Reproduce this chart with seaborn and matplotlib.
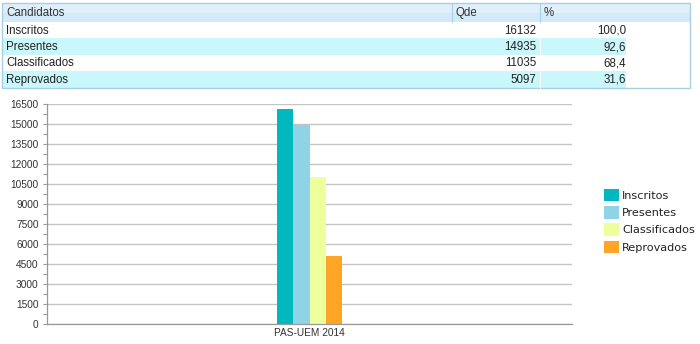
import matplotlib
matplotlib.use("Agg")
import matplotlib.pyplot as plt
from matplotlib.patches import Rectangle
import seaborn as sns
import pandas as pd

# ---- data ----
categories = ["Inscritos", "Presentes", "Classificados", "Reprovados"]
qde = [16132, 14935, 11035, 5097]
pct = ["100,0", "92,6", "68,4", "31,6"]
group_label = "PAS-UEM 2014"
header = ["Candidatos", "Qde", "%"]
yticks = list(range(0, 16501, 1500))
colors = ["#02B8BF", "#8FD4E6", "#EEFF9E", "#FFA526"]

df = pd.DataFrame({"grupo": [group_label] * len(categories),
                   "Candidatos": categories, "Qde": qde})

sns.set_theme(style="white")
plt.rcParams["font.family"] = ["Liberation Sans", "DejaVu Sans"]

W, H = 700, 344
fig = plt.figure(figsize=(W / 100, H / 100), dpi=100)

# ---- table in pixel coords ----
bg = fig.add_axes([0, 0, 1, 1], zorder=0)
bg.set_xlim(0, W)
bg.set_ylim(H, 0)
bg.axis("off")

tx0, tx1 = 2, 690
hy0, hy1 = 3, 22
row_h = 16.4
col_q, col_p = 452, 540
bg.add_patch(Rectangle((tx0, hy0), tx1 - tx0, hy1 - hy0, facecolor="#d3eaf8",
                       edgecolor="none"))
bg.add_patch(Rectangle((tx0, hy0), tx1 - tx0, (hy1 - hy0) / 2, facecolor="#dff0fa",
                       edgecolor="none"))
for x in (col_q, col_p):
    bg.plot([x, x], [hy0, hy1], color="#a9cfe5", lw=0.8)
hx = [6, col_q + 4, col_p + 4]
for t, x in zip(header, hx):
    bg.text(x, (hy0 + hy1) / 2 + 0.5, t, ha="left", va="center", fontsize=8.3,
            color="#333333")
for i, (c, q, p) in enumerate(zip(categories, qde, pct)):
    y0 = hy1 + i * row_h
    if i % 2 == 1:
        bg.add_patch(Rectangle((tx0, y0), 626 - tx0, row_h, facecolor="#c9f7fc",
                               edgecolor="none"))
        bg.plot([col_p, col_p], [y0, y0 + row_h], color="white", lw=0.8)
    yc = y0 + row_h / 2 + 0.5
    bg.text(6, yc, c, ha="left", va="center", fontsize=8.3, color="#222222")
    bg.text(536, yc, str(q), ha="right", va="center", fontsize=8.3, color="#222222")
    bg.text(626, yc, p, ha="right", va="center", fontsize=8.3, color="#222222")
ty1 = hy1 + 4 * row_h
bg.add_patch(Rectangle((tx0, hy0), tx1 - tx0, ty1 - hy0, facecolor="none",
                       edgecolor="#a9cfe5", lw=1.0))

# ---- chart ----
ax = fig.add_axes([47 / W, (H - 324) / H, 525 / W, 220 / H], zorder=1)
ax.patch.set_alpha(0)
sns.barplot(data=df, x="grupo", y="Qde", hue="Candidatos", hue_order=categories,
            palette=colors, width=0.122, saturation=1, ax=ax, legend=True)
for p in ax.patches:
    p.set_edgecolor("none")
ax.set_xlim(-0.5, 0.5)
ax.set_ylim(0, 16500)
ax.set_yticks(yticks)
ax.set_yticks(range(750, 16500, 1500), minor=True)
ax.set_yticklabels([str(v) for v in yticks], fontsize=7.3, color="#333333")
ax.tick_params(axis="y", which="both", left=True, length=3, width=0.8,
               color="#999999", pad=3)
ax.tick_params(axis="x", labelsize=7.3, colors="#333333", length=0, pad=3)
ax.set_xlabel("")
ax.set_ylabel("")
ax.grid(axis="y", color="#c4c4c4", lw=1.0)
ax.set_axisbelow(True)
for s in ("top", "right"):
    ax.spines[s].set_visible(False)
for s in ("left", "bottom"):
    ax.spines[s].set_color("#999999")
    ax.spines[s].set_linewidth(0.9)

handles, labels = ax.get_legend_handles_labels()
ax.legend_.remove()
fig.legend(handles, labels, loc="upper left",
           bbox_to_anchor=(598 / W, 1 - 183 / H), frameon=False,
           prop={"family": "DejaVu Sans", "size": 8.1},
           handlelength=1.35, handleheight=1.35, handletextpad=0.3,
           labelspacing=0.42, borderpad=0.2, borderaxespad=0.3,
           labelcolor="#222222")

fig.savefig("out.png", dpi=100)
